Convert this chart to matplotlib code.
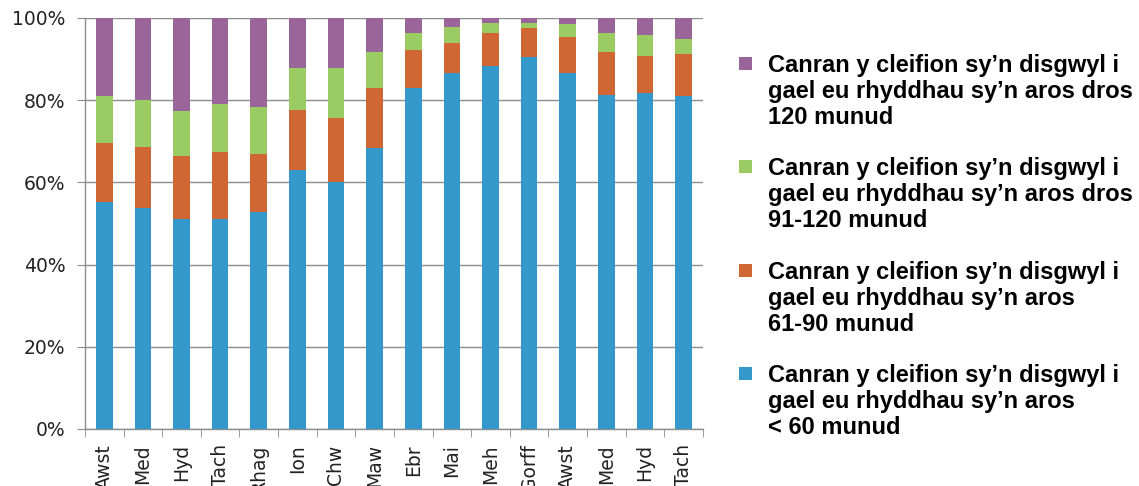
import matplotlib
matplotlib.use("Agg")
import matplotlib.pyplot as plt
from matplotlib.patches import Rectangle
from matplotlib.legend_handler import HandlerBase
import numpy as np

months = ["Awst", "Med", "Hyd", "Tach", "Rhag", "Ion", "Chw", "Maw", "Ebr",
          "Mai", "Meh", "Gorff", "Awst", "Med", "Hyd", "Tach"]

# percentage of patients in each waiting band
under_60 = [55.2, 53.8, 51.0, 51.0, 52.9, 62.9, 60.1, 68.3, 83.0,
            86.7, 88.2, 90.4, 86.7, 81.3, 81.7, 80.9]
m61_90 = [14.3, 14.9, 15.5, 16.3, 14.0, 14.7, 15.5, 14.7, 9.2,
          7.3, 8.1, 7.1, 8.6, 10.4, 9.1, 10.3]
m91_120 = [11.4, 11.3, 10.9, 11.8, 11.4, 10.2, 12.2, 8.8, 4.2,
           3.7, 2.4, 1.4, 3.2, 4.7, 5.1, 3.7]
over_120 = [19.1, 20.0, 22.6, 20.9, 21.7, 12.2, 12.2, 8.2, 3.6,
            2.3, 1.3, 1.1, 1.5, 3.6, 4.1, 5.1]

labels = [
    "Canran y cleifion sy\u2019n disgwyl i\ngael eu rhyddhau sy\u2019n aros\n< 60 munud",
    "Canran y cleifion sy\u2019n disgwyl i\ngael eu rhyddhau sy\u2019n aros\n61-90 munud",
    "Canran y cleifion sy\u2019n disgwyl i\ngael eu rhyddhau sy\u2019n aros dros\n91-120 munud",
    "Canran y cleifion sy\u2019n disgwyl i\ngael eu rhyddhau sy\u2019n aros dros\n120 munud",
]
colors = ["#3498CB", "#CF6634", "#9BCB63", "#9A6699"]


class TopSquareHandler(HandlerBase):
    """Small square aligned with the first line of a multi-line label."""
    def __init__(self, shift, **kw):
        super().__init__(**kw)
        self.shift = shift

    def create_artists(self, legend, orig_handle, xdescent, ydescent,
                       width, height, fontsize, trans):
        side = min(width, height)
        r = Rectangle((-xdescent + (width - side), -ydescent + self.shift),
                      side, side, facecolor=orig_handle.patches[0].get_facecolor(),
                      edgecolor="none", transform=trans)
        return [r]


fig = plt.figure(figsize=(11.39, 4.86), dpi=100)
ax = fig.add_axes([0.0746, 0.1173, 0.5425, 0.8457])

x = np.arange(len(months))
bottom = np.zeros(len(months))
handles = []
for vals, col, lab in zip([under_60, m61_90, m91_120, over_120], colors, labels):
    h = ax.bar(x, vals, width=0.43, bottom=bottom, color=col, label=lab, zorder=3)
    handles.append(h)
    bottom += np.array(vals)

ax.set_xlim(-0.5, len(months) - 0.5)
ax.set_ylim(0, 100)
ax.set_yticks(np.arange(0, 101, 20))
ax.set_yticklabels([f"{v}%" for v in range(0, 101, 20)], fontsize=13.5,
                   family="DejaVu Sans", color="#222222")
ax.yaxis.grid(True, color="#8c8c8c", linewidth=1.0, zorder=0)
ax.tick_params(axis="y", direction="out", length=6, color="#8c8c8c", pad=8)

ax.set_xticks(x)
ax.set_xticklabels(months, rotation=90, fontsize=13.5, family="DejaVu Sans",
                   va="top", color="#222222")
ax.set_xticks(np.arange(-0.5, len(months), 1), minor=True)
ax.tick_params(axis="x", which="major", length=0, pad=11)
ax.tick_params(axis="x", which="minor", direction="out", length=6, color="#8c8c8c")

for s in ["top", "right"]:
    ax.spines[s].set_visible(False)
for s in ["left", "bottom"]:
    ax.spines[s].set_color("#8c8c8c")
    ax.spines[s].set_linewidth(1.0)

hmap = {h: TopSquareHandler(shift=21) for h in handles}
leg = fig.legend(handles[::-1], labels[::-1], loc="upper left",
                 bbox_to_anchor=(0.630, 0.933), frameon=False,
                 prop={"family": "Liberation Sans", "weight": "bold", "size": 17},
                 handlelength=0.55, handleheight=0.55, handletextpad=0.7,
                 labelspacing=1.2, handler_map=hmap)
for t in leg.get_texts():
    t.set_linespacing(1.17)

fig.savefig("out.png", dpi=100)
